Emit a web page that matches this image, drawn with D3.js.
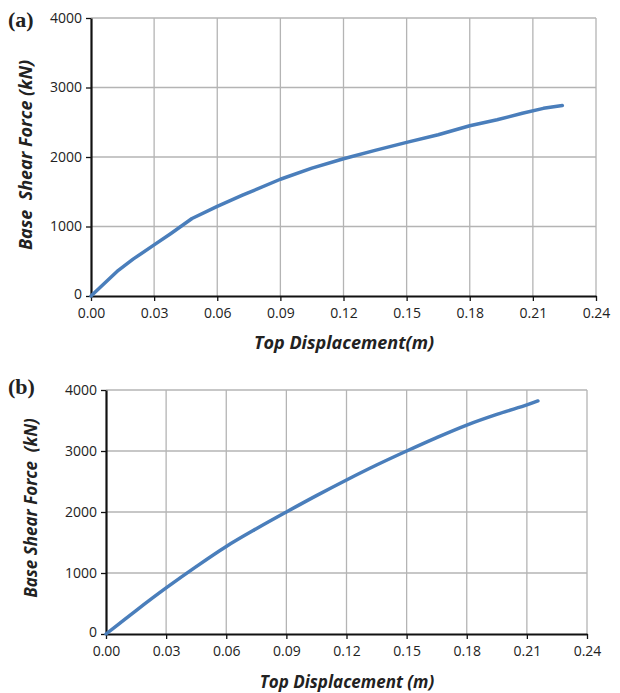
<!DOCTYPE html>
<html>
<head>
<meta charset="utf-8">
<script src="https://cdn.jsdelivr.net/npm/d3@7"></script>
<style>
  body { margin: 0; background: #fff; }
  svg text { font-family: "Open Sans", sans-serif; fill: #222; }
</style>
</head>
<body>
<svg id="chart" width="620" height="693"></svg>
<script>
(function() {

  // shared ticks
  var xTicks = [0, 0.03, 0.06, 0.09, 0.12, 0.15, 0.18, 0.21, 0.24];
  var yTicks = [0, 1000, 2000, 3000, 4000];

  // panel (a) pushover curve: [displacement m, base shear kN]
  var curveA = [
    [0, 0], [0.013, 370], [0.02, 530], [0.03, 735], [0.038, 900],
    [0.048, 1115], [0.06, 1290], [0.072, 1450], [0.09, 1680], [0.105, 1840],
    [0.12, 1975], [0.135, 2095], [0.15, 2210], [0.165, 2320], [0.18, 2450],
    [0.193, 2535], [0.205, 2630], [0.215, 2700], [0.224, 2740]
  ];

  // panel (b) pushover curve
  var curveB = [
    [0, 0], [0.015, 385], [0.03, 755], [0.045, 1105], [0.06, 1435], [0.075, 1725],
    [0.09, 2000], [0.105, 2268], [0.12, 2525], [0.135, 2770], [0.15, 3000],
    [0.165, 3220], [0.18, 3425], [0.195, 3600], [0.21, 3755], [0.2155, 3820]
  ];

  var panels = [
    {label: "(a)", data: curveA, left: 91, right: 596, top: 18, bottom: 296,
     xTitle: "Top Displacement(m)", yTitle: "Base  Shear Force (kN)",
     labelY: 27, yTitleX: 32, yTitleY: 155, xTitleX: 344, xTitleY: 349,
     titleSize: 18, curve: d3.curveLinear},
    {label: "(b)", data: curveB, left: 106, right: 587, top: 390, bottom: 634,
     xTitle: "Top Displacement (m)", yTitle: "Base Shear Force  (kN)",
     labelY: 394, yTitleX: 37, yTitleY: 508, xTitleX: 347, xTitleY: 688,
     titleSize: 17, curve: d3.curveCatmullRom}
  ];

  var svg = d3.select("#chart");

  panels.forEach(function(p) {
    var x = d3.scaleLinear().domain([0, 0.24]).range([p.left, p.right]);
    var y = d3.scaleLinear().domain([0, 4000]).range([p.bottom, p.top]);
    var g = svg.append("g");

    // grid
    g.selectAll("line.vgrid").data(xTicks.slice(1)).enter().append("line")
      .attr("x1", d => x(d)).attr("x2", d => x(d))
      .attr("y1", p.top).attr("y2", p.bottom)
      .attr("stroke", "#b4b4b4").attr("stroke-width", 1.3);
    g.selectAll("line.hgrid").data(yTicks.slice(1)).enter().append("line")
      .attr("x1", p.left).attr("x2", p.right)
      .attr("y1", d => y(d)).attr("y2", d => y(d))
      .attr("stroke", "#b4b4b4").attr("stroke-width", 1.3);

    // axes
    var xAxis = d3.axisBottom(x).tickValues(xTicks).tickFormat(d3.format(".2f"))
      .tickSizeInner(5).tickSizeOuter(0).tickPadding(7);
    var yAxis = d3.axisLeft(y).tickValues(yTicks).tickFormat(d3.format("d"))
      .tickSizeInner(5).tickSizeOuter(0).tickPadding(4);

    var gx = g.append("g").attr("transform", "translate(0," + p.bottom + ")").call(xAxis);
    var gy = g.append("g").attr("transform", "translate(" + p.left + ",0)").call(yAxis);
    [gx, gy].forEach(function(a) {
      a.select(".domain").attr("stroke", "#111").attr("stroke-width", 2.2);
      a.selectAll(".tick line").attr("stroke", "#111").attr("stroke-width", 1.3);
      a.selectAll(".tick text").style("font-size", "14px").attr("fill", "#222")
        .style("font-family", "'Open Sans', sans-serif");
    });
    // keep the "0" label clear of the x labels
    gy.selectAll(".tick text").filter(d => d === 0).attr("dy", "0.15em");

    // curve
    var line = d3.line().x(d => x(d[0])).y(d => y(d[1])).curve(p.curve);
    g.append("path").datum(p.data)
      .attr("d", line)
      .attr("fill", "none")
      .attr("stroke", "#4a7ebb")
      .attr("stroke-width", 3.5)
      .attr("stroke-linecap", "round")
      .attr("stroke-linejoin", "round");

    // titles
    g.append("text")
      .attr("x", p.xTitleX).attr("y", p.xTitleY)
      .attr("text-anchor", "middle")
      .style("font-size", p.titleSize + "px").style("font-weight", "bold").style("font-style", "italic")
      .style("white-space", "pre")
      .attr("fill", "#111")
      .text(p.xTitle);

    g.append("text")
      .attr("transform", "translate(" + p.yTitleX + "," + p.yTitleY + ") rotate(-90)")
      .attr("text-anchor", "middle")
      .style("font-size", p.titleSize + "px").style("font-weight", "bold").style("font-style", "italic")
      .style("white-space", "pre")
      .attr("fill", "#111")
      .text(p.yTitle);

    g.append("text")
      .attr("x", 8).attr("y", p.labelY)
      .style("font-family", "'Liberation Serif', 'DejaVu Serif', serif")
      .style("font-size", "22px").style("font-weight", "bold")
      .attr("fill", "#111")
      .text(p.label);
  });

})();
</script>
</body>
</html>
